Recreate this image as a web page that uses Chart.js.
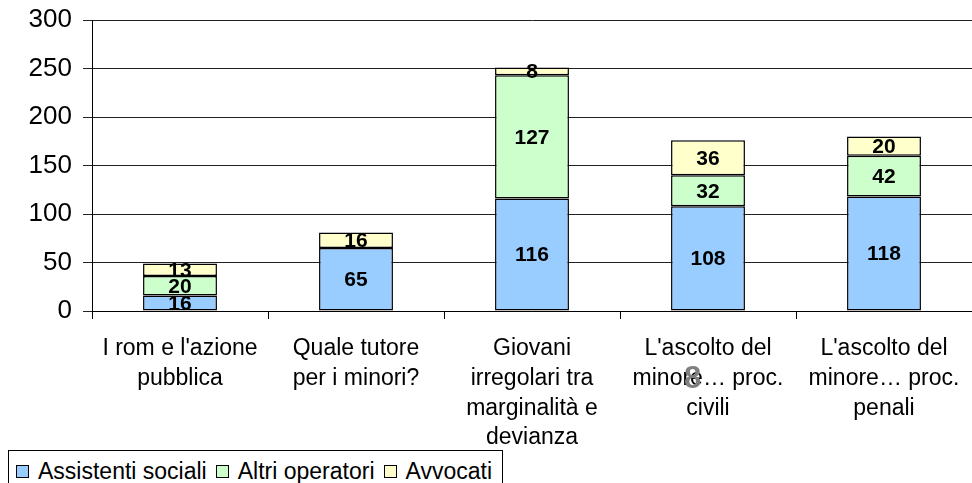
<!DOCTYPE html>
<html>
<head>
<meta charset="utf-8">
<script src="https://cdn.jsdelivr.net/npm/chart.js@4/dist/chart.umd.min.js"></script>
<style>
  html, body { margin: 0; padding: 0; background: #fff; overflow: hidden; }
  #wrap { position: relative; width: 972px; height: 483px; }
  #legend {
    position: absolute; left: 8px; top: 450px; width: 495px; height: 50px;
    border: 1px solid #000; box-sizing: border-box; background: #fff;
    font: 23px "Liberation Sans", Arial, sans-serif; color: #000;
    padding: 7px 0 0 7px; white-space: nowrap; line-height: 26px;
  }
  #legend span.item { margin-right: 9px; }
  #legend span.box {
    display: inline-block; width: 11px; height: 11px; border: 1px solid #000;
    margin-right: 9px; vertical-align: 1px;
  }
  #pagenum {
    position: absolute; left: 684px; top: 360px;
    font: bold 31px "Liberation Sans", Arial, sans-serif; color: #808080;
  }
</style>
</head>
<body>
<div id="wrap">
  <canvas id="chart" width="972" height="483"></canvas>
  <div id="legend"></div>
  <div id="pagenum">8</div>
</div>
<script>
// categories (multi-line labels as in the original)
var categories = [
    ["I rom e l'azione", "pubblica"],
    ["Quale tutore", "per i minori?"],
    ["Giovani", "irregolari tra", "marginalità e", "devianza"],
    ["L'ascolto del", "minore… proc.", "civili"],
    ["L'ascolto del", "minore… proc.", "penali"]
];
var seriesNames = ["Assistenti sociali", "Altri operatori", "Avvocati"];
var assistenti = [16, 65, 116, 108, 118];
var altri = [20, 0, 127, 32, 42];
var avvocati = [13, 16, 8, 36, 20];
var yTicks = [0, 50, 100, 150, 200, 250, 300];

var colors = ['#99CCFF', '#CCFFCC', '#FFFFCC'];
var FONT = '"Liberation Sans", Arial, sans-serif';

// value labels in the middle of each segment
var segmentLabels = {
    id: 'segmentLabels',
    afterDatasetsDraw: function(chart) {
        var ctx = chart.ctx;
        ctx.save();
        ctx.font = 'bold 21px ' + FONT;
        ctx.fillStyle = '#000';
        ctx.textAlign = 'center';
        ctx.textBaseline = 'middle';
        chart.data.datasets.forEach(function(ds, i) {
            chart.getDatasetMeta(i).data.forEach(function(bar, j) {
                var v = ds.data[j];
                if (!v) return;
                ctx.fillText(String(v), bar.x, (bar.y + bar.base) / 2 + 1);
            });
        });
        ctx.restore();
    }
};

var seriesData = [assistenti, altri, avvocati];
var chart = new Chart(document.getElementById('chart'), {
    type: 'bar',
    data: {
        labels: categories,
        datasets: seriesNames.map(function(name, i) {
            return {
                label: name,
                data: seriesData[i],
                backgroundColor: colors[i],
                borderColor: '#000',
                borderWidth: 1.5,
                borderSkipped: false,
                categoryPercentage: 1,
                barPercentage: 0.42
            };
        })
    },
    options: {
        responsive: false,
        animation: false,
        layout: {padding: {top: 20, right: 0, left: 0, bottom: 0}},
        plugins: {
            legend: {display: false},
            tooltip: {enabled: false}
        },
        scales: {
            x: {
                stacked: true,
                grid: {drawOnChartArea: false, drawTicks: true, tickLength: 8, color: '#000', offset: true},
                border: {color: '#000', width: 1},
                ticks: {
                    color: '#000', font: {family: FONT, size: 23, lineHeight: 1.29},
                    maxRotation: 0, autoSkip: false, padding: 15
                },
                afterFit: function(scale) {
                    scale.height = 172;
                    scale.paddingLeft = 0;
                    scale.paddingRight = 0;
                }
            },
            y: {
                stacked: true,
                min: 0, max: 300,
                afterBuildTicks: function(scale) {
                    scale.ticks = yTicks.map(function(v) { return {value: v}; });
                },
                grid: {color: '#222', lineWidth: 1, tickLength: 9},
                border: {color: '#000', width: 1},
                ticks: {color: '#000', font: {family: FONT, size: 26}, padding: 11},
                afterFit: function(scale) {
                    scale.width = 92;
                    scale.paddingTop = 0;
                    scale.paddingBottom = 0;
                }
            }
        }
    },
    plugins: [segmentLabels]
});

// legend built from the series
var legend = document.getElementById('legend');
seriesNames.forEach(function(name, i) {
    var item = document.createElement('span');
    item.className = 'item';
    var box = document.createElement('span');
    box.className = 'box';
    box.style.background = colors[i];
    item.appendChild(box);
    item.appendChild(document.createTextNode(name));
    legend.appendChild(item);
});
</script>
</body>
</html>
